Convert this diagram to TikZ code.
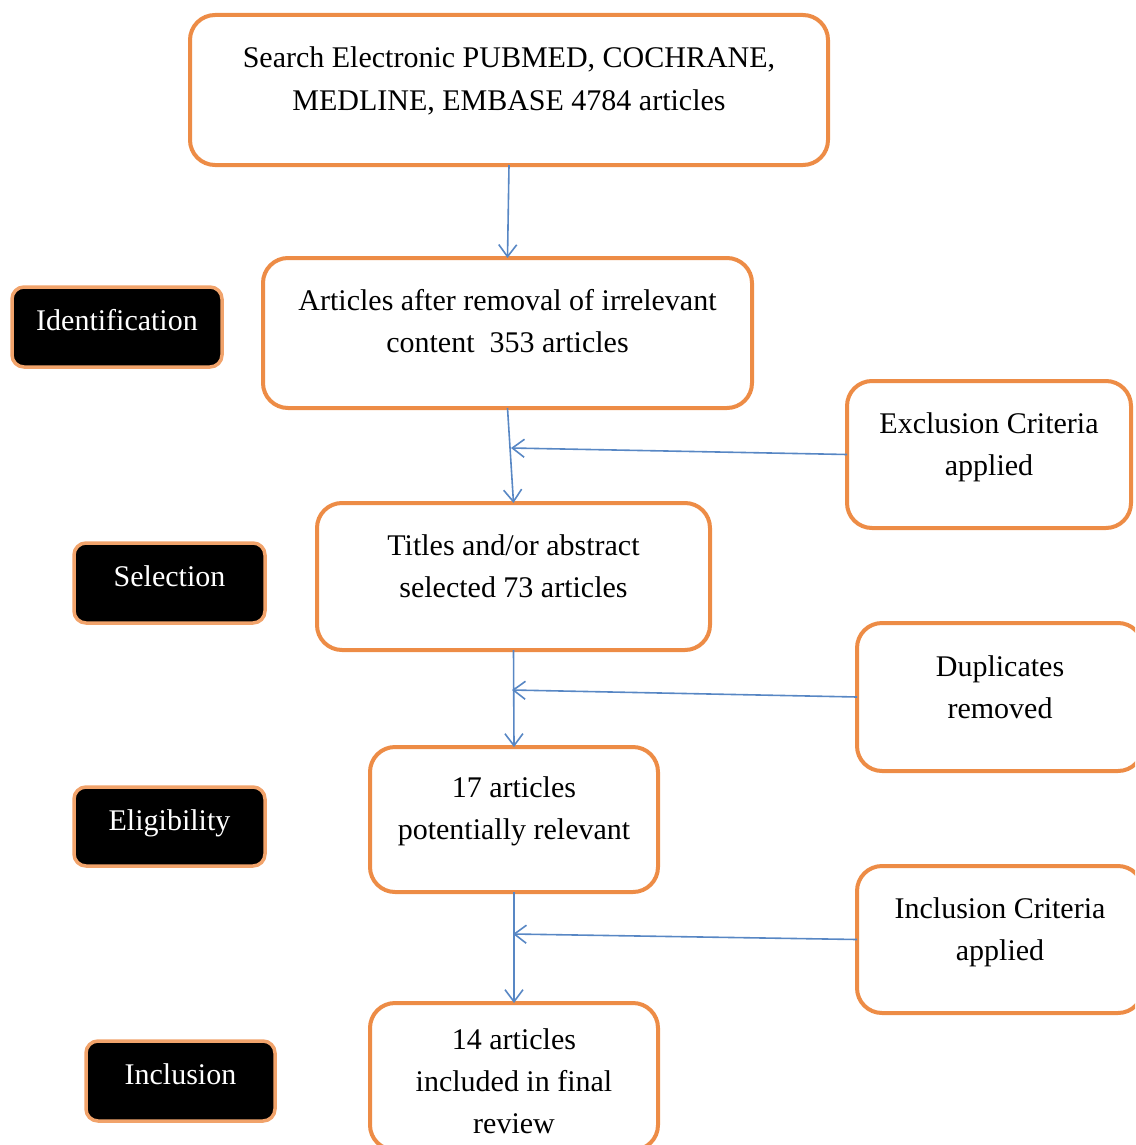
\documentclass[tikz,border=0pt]{standalone}
\usepackage{fontspec}
\setmainfont{Liberation Serif}
\usetikzlibrary{arrows.meta}
\definecolor{boxorange}{RGB}{237,140,70}
\definecolor{arrowblue}{RGB}{88,135,196}
\newcommand{\boxtxt}[4]{\parbox[c][#2][t]{#1}{\centering\rule{0pt}{#3}#4}}
\tikzset{
  x=1pt, y=-1pt,
  every node/.style={font=\fontsize{30}{42}\selectfont},
  flowbox/.style={draw=boxorange, line width=4pt, rounded corners=25pt, fill=white, inner sep=0pt, outer sep=0pt},
  stagebox/.style={draw=boxorange!80, line width=3.5pt, rounded corners=12pt, fill=black, text=white,
     inner sep=0pt, text height=21pt, text depth=14pt},
  flowarrow/.style={draw=arrowblue, line width=1.6pt, -{Straight Barb[length=12pt,width=18pt,line width=1.6pt]}},
}
\begin{document}
\begin{tikzpicture}
\useasboundingbox (0,0) rectangle (1135,1145);
\clip (0,0) rectangle (1135,1145);
% main column
\node[flowbox] (b1) at (509,90) {\boxtxt{638pt}{150pt}{53pt}{Search Electronic PUBMED, COCHRANE,\\MEDLINE, EMBASE 4784 articles}};
\node[flowbox] (b2) at (507.5,333) {\boxtxt{489pt}{150pt}{52pt}{Articles after removal of irrelevant\\content\ \ 353 articles}};
\node[flowbox] (b3) at (513.5,576.5) {\boxtxt{393pt}{147pt}{52pt}{Titles and/or abstract\\selected 73 articles}};
\node[flowbox] (b4) at (514,819.5) {\boxtxt{288pt}{145pt}{50pt}{17 articles\\potentially relevant}};
\node[flowbox] (b5) at (514,1076.5) {\boxtxt{288pt}{147pt}{46pt}{14 articles\\included in final\\review}};
% right column
\node[flowbox] (r1) at (989,454.5) {\boxtxt{284pt}{147pt}{52pt}{Exclusion Criteria\\applied}};
\node[flowbox] (r2) at (1000,697) {\boxtxt{286pt}{148pt}{53pt}{Duplicates\\removed}};
\node[flowbox] (r3) at (1000,939.5) {\boxtxt{286pt}{147pt}{52pt}{Inclusion Criteria\\applied}};
% stage labels
\node[stagebox, minimum width=210pt, minimum height=80pt] (s1) at (117,327) {Identification};
\node[stagebox, minimum width=191pt, minimum height=80pt] (s2) at (169.5,583) {Selection};
\node[stagebox, minimum width=191pt, minimum height=79pt] (s3) at (169.5,826.5) {Eligibility};
\node[stagebox, minimum width=189pt, minimum height=80pt] (s4) at (180.5,1081) {Inclusion};
% junctions
\coordinate (j1) at (511,448);
\coordinate (j2) at (512,690);
\coordinate (j3) at (513,934);
% connectors
\draw[flowarrow] (b1.south) -- (b2.north);
\draw[flowarrow] (b2.south) -- (b3.north);
\draw[flowarrow] (b3.south) -- (b4.north);
\draw[flowarrow] (b4.south) -- (b5.north);
\draw[flowarrow] (r1.west) -- (j1);
\draw[flowarrow] (r2.west) -- (j2);
\draw[flowarrow] (r3.west) -- (j3);
\end{tikzpicture}
\end{document}
